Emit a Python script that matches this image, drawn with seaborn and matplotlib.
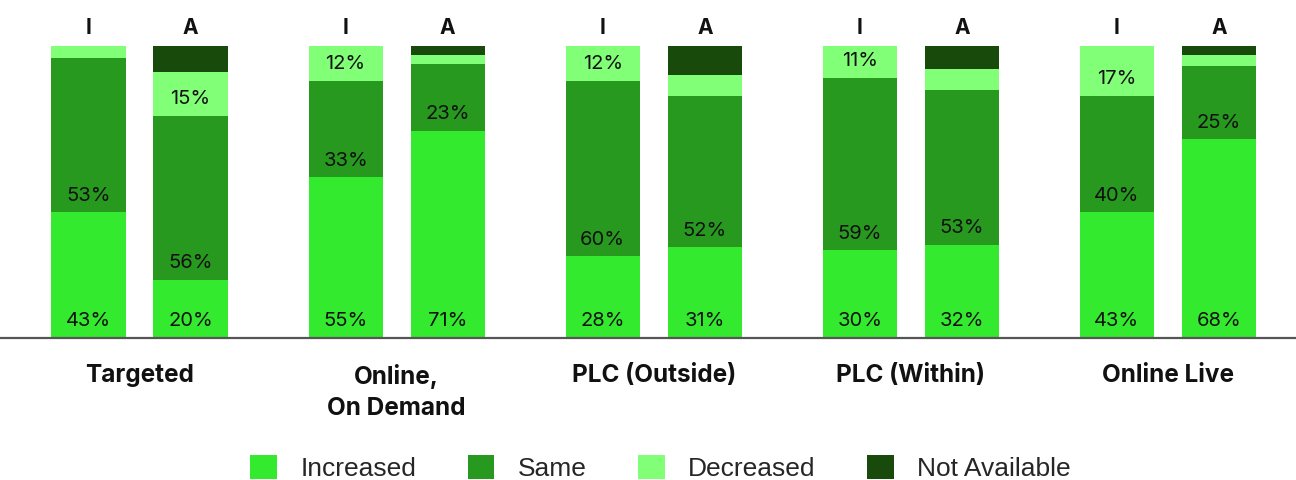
import matplotlib
matplotlib.use("Agg")
import matplotlib.pyplot as plt
import seaborn as sns
import pandas as pd
from matplotlib.patches import Patch
from matplotlib import font_manager

# ---------------- data ----------------
categories = ["Targeted", "Online,\nOn Demand", "PLC (Outside)", "PLC (Within)", "Online Live"]
groups = ["I", "A"]

increased_I = [43, 55, 28, 30, 43]
same_I = [53, 33, 60, 59, 40]
decreased_I = [4, 12, 12, 11, 17]
na_I = [0, 0, 0, 0, 0]

increased_A = [20, 71, 31, 32, 68]
same_A = [56, 23, 52, 53, 25]
decreased_A = [15, 3, 7, 7, 4]
na_A = [9, 3, 10, 8, 3]

series_names = ["Increased", "Same", "Decreased", "Not Available"]
colors = ["#33EA2E", "#27991F", "#80FF77", "#174A0B"]

# ---------------- fonts ----------------
available = {f.name for f in font_manager.fontManager.ttflist}
main_font = "Inter" if "Inter" in available else "DejaVu Sans"
legend_font = "Liberation Sans" if "Liberation Sans" in available else "DejaVu Sans"

sns.set_theme(style="white")
plt.rcParams["font.family"] = [main_font, "DejaVu Sans"]

# ---------------- frame ----------------
rows = []
for i, c in enumerate(categories):
    rows.append(dict(category=c, group="I", inc=increased_I[i], same=same_I[i],
                     dec=decreased_I[i], na=na_I[i]))
    rows.append(dict(category=c, group="A", inc=increased_A[i], same=same_A[i],
                     dec=decreased_A[i], na=na_A[i]))
df = pd.DataFrame(rows)
df["c1"] = df["inc"]
df["c2"] = df["c1"] + df["same"]
df["c3"] = df["c2"] + df["dec"]
df["c4"] = df["c3"] + df["na"]

W, H = 1296, 480
fig = plt.figure(figsize=(W / 100, H / 100), dpi=100)
base_px, top_px = 338, 46
ax = fig.add_axes([0, (H - base_px) / H, 1, (base_px - top_px) / H])

layer_cols = ["c4", "c3", "c2", "c1"]
layer_colors = [colors[3], colors[2], colors[1], colors[0]]
for col, colr in zip(layer_cols, layer_colors):
    sns.barplot(data=df, x="category", y=col, hue="group", hue_order=groups,
                order=categories, palette=[colr, colr], width=0.794, gap=0.274,
                dodge=True, legend=False, ax=ax, saturation=1, errorbar=None,
                linewidth=0, edgecolor="none")

ax.set_ylim(0, 100)
ax.set_xlim(-0.5426, 4.498)
ax.set_xlabel("")
ax.set_ylabel("")
ax.set_yticks([])
for s in ["left", "right", "top"]:
    ax.spines[s].set_visible(False)
ax.spines["bottom"].set_color("#555555")
ax.spines["bottom"].set_linewidth(1.6)
ax.spines["bottom"].set_zorder(5)
ax.tick_params(axis="x", length=0, pad=19)
for lab in ax.get_xticklabels():
    lab.set_fontsize(17.5)
    lab.set_fontweight("bold")
    lab.set_color("#111111")
    lab.set_linespacing(1.45)

# bar centres from seaborn's last layer
conts = ax.containers[-2:]
for gi, g in enumerate(groups):
    cont = conts[gi]
    sub = df[df["group"] == g].set_index("category").loc[categories]
    for i, cat in enumerate(categories):
        p = cont.patches[i]
        xc = p.get_x() + p.get_width() / 2
        ax.text(xc, 106.3, g, ha="center", va="center", fontsize=15,
                fontweight="bold", color="#111111", clip_on=False)
        bottoms = [0, sub.loc[cat, "c1"], sub.loc[cat, "c2"], sub.loc[cat, "c3"]]
        vals = [sub.loc[cat, "inc"], sub.loc[cat, "same"], sub.loc[cat, "dec"], sub.loc[cat, "na"]]
        for b, v in zip(bottoms, vals):
            if v >= 11:
                ax.annotate(f"{v}%", (xc, b), xytext=(0, 12.0), textcoords="offset points",
                            ha="center", va="center", fontsize=14.5, color="#111111")

handles = [Patch(facecolor=c, edgecolor="none") for c in colors]
fig.legend(handles, series_names, loc="center", bbox_to_anchor=(0.5097, 0.025),
           ncol=4, frameon=False, handlelength=1.0, handleheight=1.0,
           handletextpad=0.9, columnspacing=1.95,
           prop={"family": legend_font, "size": 19})

fig.savefig("out.png", dpi=100)
